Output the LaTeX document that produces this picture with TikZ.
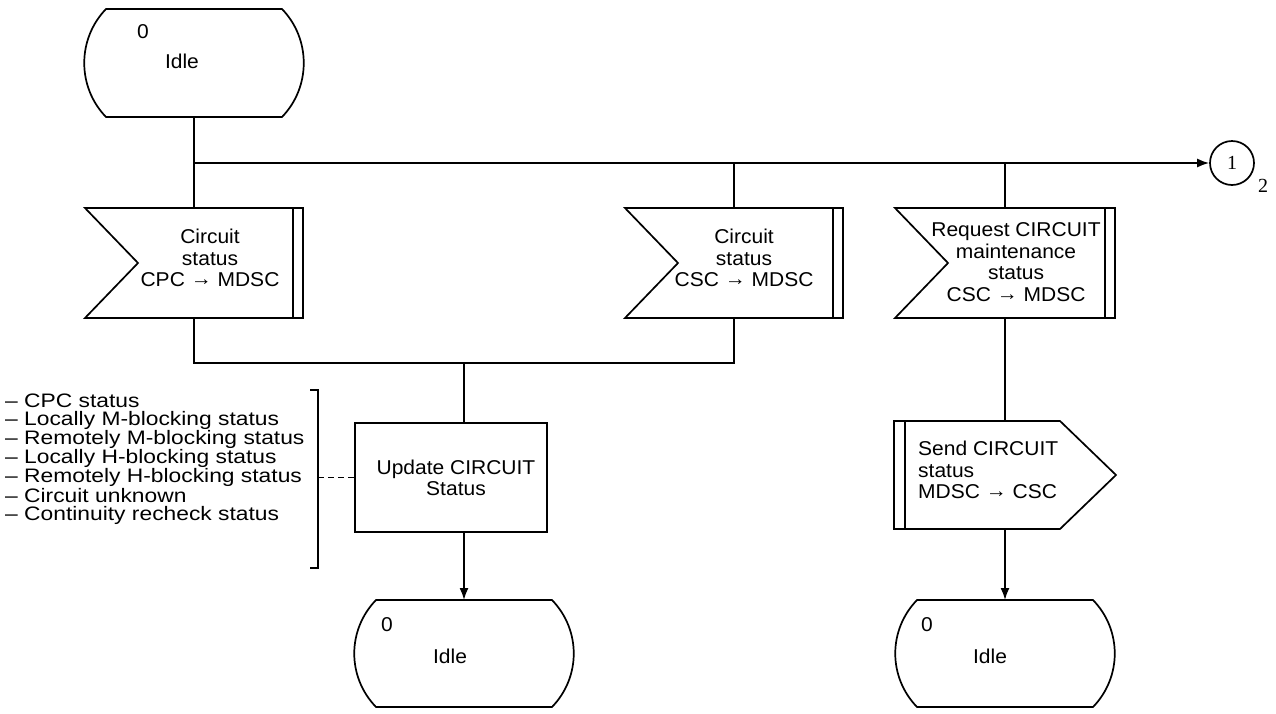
\documentclass[tikz,border=0pt]{standalone}
\usepackage{fontspec}
\setmainfont{Liberation Sans}[FakeStretch=1.05]
\newfontfamily\cmtfont{Liberation Sans}[FakeStretch=1.17,Ligatures=TeX]
\newfontfamily\serifnum{Liberation Serif}
\usetikzlibrary{arrows.meta}
% state outline: left top right bottom
\newcommand\stateshape[4]{%
  \draw[shp] (#1+22,#2) -- (#3-22,#2) .. controls +(29,30) and +(29,-30) .. (#3-22,#4)
    -- (#1+22,#4) .. controls +(-29,-30) and +(-29,30) .. (#1+22,#2) -- cycle;}
% input signal outline: left top right bottom
\newcommand\inshape[4]{%
  \draw[shp] (#1,#2) -- (#3,#2) -- (#3,#4) -- (#1,#4) -- (#1+53,{(#2+#4)/2}) -- cycle;
  \draw[shp] (#3-10,#2) -- (#3-10,#4);}
% output signal outline
\newcommand\outshape[4]{%
  \draw[shp] (#1,#2) -- (#3-56,#2) -- (#3,{(#2+#4)/2}) -- (#3-56,#4) -- (#1,#4) -- cycle;
  \draw[shp] (#1+11,#2) -- (#1+11,#4);}
\newcommand\arw{\raisebox{0.05em}{\scalebox{1.0}{→}}}
\begin{document}
\begin{tikzpicture}[x=1pt,y=-1pt,
  shp/.style={line width=1.7pt, line join=miter},
  ln/.style={line width=1.7pt},
  arr/.style={ln,-{Latex[length=12pt,width=9pt]}},
  box/.style={draw=none,inner sep=0pt,outer sep=0pt},
  txt/.style={font=\fontsize{20}{21.5}\selectfont, align=center, inner sep=0pt},
  cmt/.style={font=\cmtfont\fontsize{19.5}{18}\selectfont, align=left, inner sep=0pt, anchor=west},
]
\useasboundingbox (0,0) rectangle (1276,713);

% ---- shapes ----
\stateshape{84}{9}{304}{117}
\node[box, minimum width=220pt, minimum height=108pt] (st1) at (194,63) {};
\node[txt] (st1n) at (143,32) {0};
\node[txt] (st1t) at (182,61) {Idle};

\inshape{85}{208}{303}{318}
\node[box, minimum width=218pt, minimum height=110pt] (in1) at (194,263) {};
\node[txt] (in1t) at (210,258) {Circuit\\status\\CPC \arw{} MDSC};

\inshape{625}{208}{843}{318}
\node[box, minimum width=218pt, minimum height=110pt] (in2) at (734,263) {};
\node[txt] (in2t) at (744,258) {Circuit\\status\\CSC \arw{} MDSC};

\inshape{895}{208}{1115}{318}
\node[box, minimum width=220pt, minimum height=110pt] (in3) at (1005,263) {};
\node[txt] (in3t) at (1016,262) {Request CIRCUIT\\maintenance\\status\\CSC \arw{} MDSC};

\draw[shp] (355,423) rectangle (547,532);
\node[box, minimum width=192pt, minimum height=109pt] (task) at (451,477.5) {};
\node[txt] (taskt) at (456,478) {Update CIRCUIT\\Status};

\outshape{894}{421}{1116}{529}
\node[box, minimum width=222pt, minimum height=108pt] (out) at (1005,475) {};
\node[txt, align=left, anchor=west] (outt) at (918,470) {Send CIRCUIT\\status\\MDSC \arw{} CSC};

\stateshape{354}{600}{574}{707}
\node[box, minimum width=220pt, minimum height=107pt] (st2) at (464,653.5) {};
\node[txt] (st2n) at (387,625) {0};
\node[txt] (st2t) at (450,656) {Idle};

\stateshape{895}{600}{1115}{707}
\node[box, minimum width=220pt, minimum height=107pt] (st3) at (1005,653.5) {};
\node[txt] (st3n) at (927,625) {0};
\node[txt] (st3t) at (990,656) {Idle};

\node[draw, line width=1.7pt, circle, minimum size=44pt, inner sep=0pt,
  font=\serifnum\fontsize{20}{20}\selectfont] (c1) at (1232,163) {1};
\node[font=\serifnum\fontsize{20}{20}\selectfont, inner sep=0pt] (c1s) at (1263,186) {2};

% ---- comment ----
\node[cmt] (cm) at (5,459) {– CPC status\\– Locally M-blocking status\\– Remotely M-blocking status\\– Locally H-blocking status\\– Remotely H-blocking status\\– Circuit unknown\\– Continuity recheck status};
\coordinate (bt) at (318,390);
\coordinate (bb) at (318,568);
\coordinate (bm) at (318,477.5);
\draw[ln] ([xshift=-8pt]bt) -- (bt) -- (bb) -- ([xshift=-8pt]bb);
\draw[ln, dash pattern=on 6pt off 4pt] (bm) -- (task.west);

% ---- connectors ----
\draw[ln] (st1.south) -- (in1.north);
\draw[arr] (st1.south |- c1.west) -- (c1.west);
\draw[ln] (in2.north |- c1.west) -- (in2.north);
\draw[ln] (in3.north |- c1.west) -- (in3.north);
\coordinate (jb) at (464,363);
\draw[ln] (in1.south) -- (in1.south |- jb) -- (in2.south |- jb) -- (in2.south);
\draw[ln] (jb) -- (jb |- task.north);
\draw[arr] (jb |- task.south) -- (st2.north);
\draw[ln] (in3.south) -- (out.north);
\draw[arr] (out.south) -- (st3.north);
\end{tikzpicture}
\end{document}
